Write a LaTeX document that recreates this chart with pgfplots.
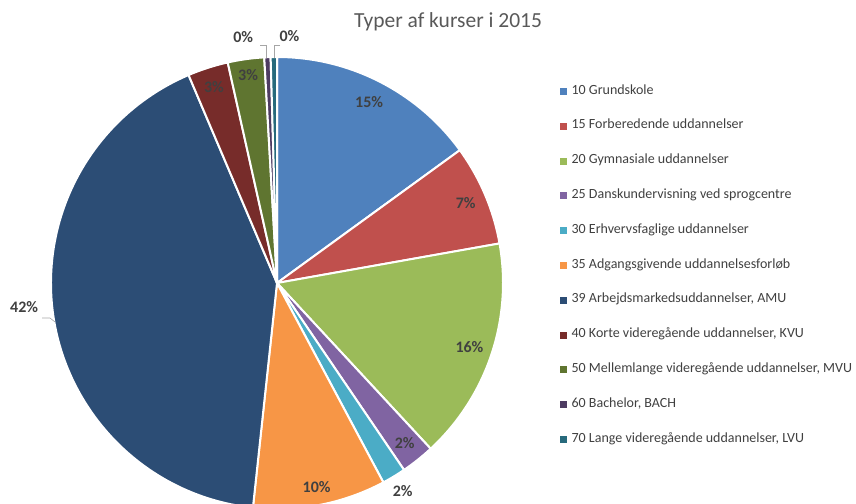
\documentclass[border=0pt]{standalone}
\usepackage{pgfplots}
\pgfplotsset{compat=1.18}
\usepackage{pgfplotstable}
\usepackage{fontspec}
\setmainfont{Carlito}
\definecolor{c0}{HTML}{4F81BD}
\definecolor{c1}{HTML}{C0504D}
\definecolor{c2}{HTML}{9BBB59}
\definecolor{c3}{HTML}{8064A2}
\definecolor{c4}{HTML}{4BACC6}
\definecolor{c5}{HTML}{F79646}
\definecolor{c6}{HTML}{2C4D75}
\definecolor{c7}{HTML}{772C2A}
\definecolor{c8}{HTML}{5F7530}
\definecolor{c9}{HTML}{4D3B62}
\definecolor{c10}{HTML}{276A7C}
\definecolor{labgray}{HTML}{404040}
\definecolor{titlegray}{HTML}{595959}
% val = share in percent, lab = printed label, lr = label radius (pt), lda = label angle shift
\pgfplotstableread{
val  lab lr  lda
15.0 15  203 0
7.2  7   205 0
15.9 16  203 0
2.4  2   205 0
1.7  2   243 0
9.5  10  208 0
41.9 42  254 -3
2.9  3   206 0
2.6  3   210 0
0.45 0   248 5.4
0.45 0   247 -3.7
}\piedata
\begin{document}
\begin{tikzpicture}
\xdef\cumang{90}
\foreach \i in {0,...,10}{
  \pgfplotstablegetelem{\i}{val}\of\piedata
  \pgfmathsetmacro\sa{\cumang}
  \pgfmathsetmacro\ea{\cumang-3.6*\pgfplotsretval}
  \pgfplotstablegetelem{\i}{lda}\of\piedata
  \pgfmathsetmacro\ma{(\sa+\ea)/2+\pgfplotsretval}
  \expandafter\xdef\csname sa\i\endcsname{\sa}
  \expandafter\xdef\csname ea\i\endcsname{\ea}
  \expandafter\xdef\csname ma\i\endcsname{\ma}
  \pgfplotstablegetelem{\i}{lab}\of\piedata
  \expandafter\xdef\csname lab\i\endcsname{\pgfplotsretval}
  \pgfplotstablegetelem{\i}{lr}\of\piedata
  \expandafter\xdef\csname lr\i\endcsname{\pgfplotsretval}
  \xdef\cumang{\ea}
}
\begin{axis}[
  width=856pt, height=503pt, scale only axis,
  xmin=0, xmax=856, ymin=0, ymax=503,
  hide axis, clip=true,
  legend style={at={(axis cs:557,421)}, anchor=north west, draw=none, fill=none,
    font=\fontsize{14}{16}\selectfont, text=labgray, row sep=20.8pt,
    nodes={inner sep=0pt, text height=10pt, text depth=4pt}},
  legend cell align=left,
  legend image code/.code={\fill[#1] (0pt,-3pt) rectangle (6pt,3pt); \path (11pt,0pt);},
]
\pgfplotsinvokeforeach{0,...,10}{
  \fill[c#1, draw=white, line width=2pt, line join=round]
    (axis cs:277,220) -- ++(\csname sa#1\endcsname:226pt)
    arc[start angle=\csname sa#1\endcsname, end angle=\csname ea#1\endcsname, radius=226pt] -- cycle;
}
\pgfplotsinvokeforeach{0,...,10}{
  \path (axis cs:277,220) ++(\csname ma#1\endcsname:\csname lr#1\endcsname pt)
    node[font=\fontsize{16}{18}\selectfont\bfseries, text=labgray, inner sep=0pt] {\csname lab#1\endcsname\%};
}
% leader lines
\draw[gray!70, line width=0.6pt] (axis cs:42,185) -- (axis cs:50,185) -- (axis cs:55,181);
\draw[gray!70, line width=0.6pt] (axis cs:260,457.3) -- (axis cs:266.5,457.3) -- (axis cs:266.5,445);
\draw[gray!70, line width=0.6pt] (axis cs:280,457.3) -- (axis cs:274,457.3) -- (axis cs:274,445);
\node[font=\fontsize{21.5}{24}\selectfont, text=titlegray] at (axis cs:448,481) {Typer af kurser i 2015};
\addlegendimage{c0}\addlegendentry{10 Grundskole}
\addlegendimage{c1}\addlegendentry{15 Forberedende uddannelser}
\addlegendimage{c2}\addlegendentry{20 Gymnasiale uddannelser}
\addlegendimage{c3}\addlegendentry{25 Danskundervisning ved sprogcentre}
\addlegendimage{c4}\addlegendentry{30 Erhvervsfaglige uddannelser}
\addlegendimage{c5}\addlegendentry{35 Adgangsgivende uddannelsesforløb}
\addlegendimage{c6}\addlegendentry{39 Arbejdsmarkedsuddannelser, AMU}
\addlegendimage{c7}\addlegendentry{40 Korte videregående uddannelser, KVU}
\addlegendimage{c8}\addlegendentry{50 Mellemlange videregående uddannelser, MVU}
\addlegendimage{c9}\addlegendentry{60 Bachelor, BACH}
\addlegendimage{c10}\addlegendentry{70 Lange videregående uddannelser, LVU}
\end{axis}
\pgfresetboundingbox
\path[use as bounding box] (current axis.south west) rectangle (current axis.north east);
\end{tikzpicture}
\end{document}
